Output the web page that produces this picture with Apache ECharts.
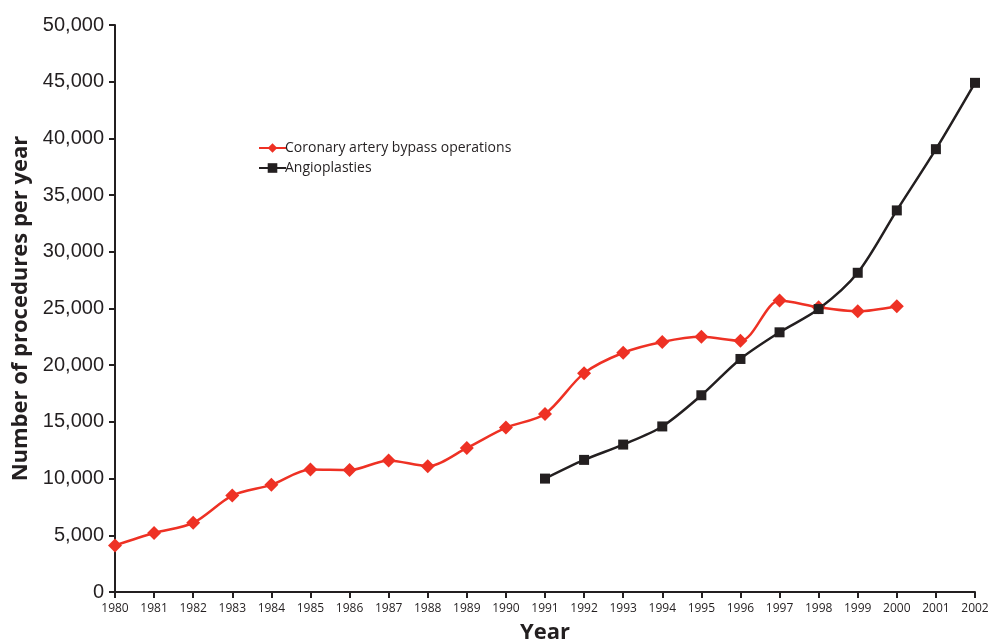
<!DOCTYPE html>
<html><head><meta charset="utf-8">
<script src="https://cdn.jsdelivr.net/npm/echarts@6/dist/echarts.min.js"></script>
<style>html,body{margin:0;padding:0;background:#fff}#c{width:991px;height:642px}</style>
</head><body><div id="c"></div>
<script>
const years = ['1980','1981','1982','1983','1984','1985','1986','1987','1988','1989','1990','1991','1992','1993','1994','1995','1996','1997','1998','1999','2000','2001','2002'];
const bypass = [4100,5200,6100,8500,9450,10800,10750,11600,11100,12700,14500,15700,19300,21100,22050,22500,22150,25700,25100,24750,25200,null,null];
const angio = [null,null,null,null,null,null,null,null,null,null,null,10000,11650,13000,14600,17350,20550,22900,24950,28150,33650,39050,44900];
const chart = echarts.init(document.getElementById('c'));
chart.setOption({
  animation:false,
  grid:{left:115,right:16,top:25,bottom:50,outerBoundsMode:'none',containLabel:false},
  legend:{orient:'vertical',left:253,top:136,itemGap:6,itemWidth:27,itemHeight:12,
    textStyle:{fontFamily:'Open Sans',fontSize:14,color:'#231f20',padding:[0,0,0,-6]},
    data:['Coronary artery bypass operations','Angioplasties']},
  xAxis:{type:'category',data:years,boundaryGap:false,
    name:'Year',nameLocation:'middle',nameGap:30,
    nameTextStyle:{fontFamily:'Open Sans',fontWeight:'bold',fontSize:22,color:'#231f20'},
    axisLine:{lineStyle:{color:'#231f20',width:2}},
    axisTick:{show:true,alignWithLabel:true,length:6,lineStyle:{color:'#231f20',width:2}},
    axisLabel:{interval:0,fontFamily:'Open Sans',fontSize:12,color:'#231f20',margin:11}},
  yAxis:{type:'value',min:0,max:50000,interval:5000,
    name:'Number of procedures per year',nameLocation:'middle',nameGap:82,
    nameTextStyle:{fontFamily:'Open Sans',fontWeight:'bold',fontSize:22,color:'#231f20'},
    axisLine:{show:true,lineStyle:{color:'#231f20',width:2}},
    axisTick:{show:true,length:6,lineStyle:{color:'#231f20',width:2}},
    splitLine:{show:false},
    axisLabel:{fontFamily:'Liberation Sans',fontSize:20,color:'#231f20',margin:11,
      formatter:v=>v.toLocaleString('en-US')}},
  series:[
    {name:'Coronary artery bypass operations',type:'line',data:bypass,smooth:0.3,
     symbol:'diamond',symbolSize:14,itemStyle:{color:'#ee3124'},lineStyle:{color:'#ee3124',width:2.5}},
    {name:'Angioplasties',type:'line',data:angio,smooth:0.3,
     symbol:'rect',symbolSize:10,itemStyle:{color:'#231f20'},lineStyle:{color:'#231f20',width:2.5}}
  ]
});
</script></body></html>
